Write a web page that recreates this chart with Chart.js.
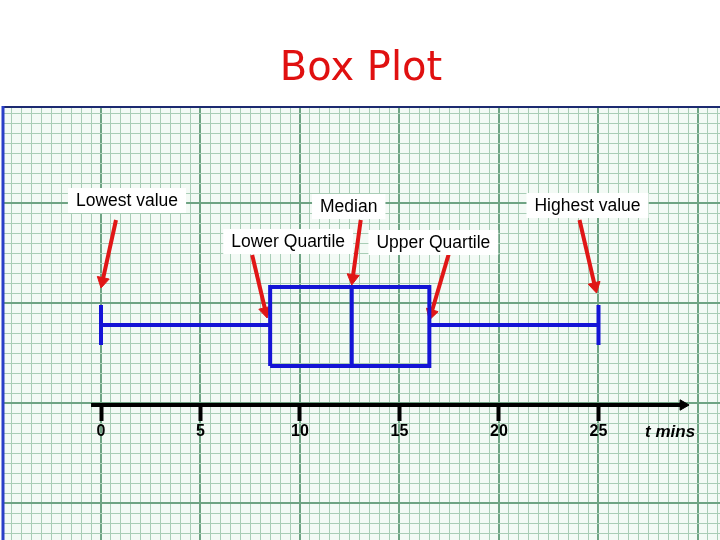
<!DOCTYPE html>
<html>
<head>
<meta charset="utf-8">
<script src="https://cdn.jsdelivr.net/npm/chart.js@4.4.0/dist/chart.umd.min.js"></script>
<style>
  html, body { margin: 0; padding: 0; background: #fff; }
  #caixa { width: 720px; height: 540px; }
</style>
</head>
<body>
<div id="caixa"><canvas id="myChart"></canvas></div>
<script>
// dados do box plot (minutos)
const titulo = 'Box Plot';
const categorias = ['Lowest value', 'Lower Quartile', 'Median', 'Upper Quartile', 'Highest value'];
const valores = [0, 8.5, 12.6, 16.5, 25];
const marcasEixo = [0, 5, 10, 15, 20, 25];
const rotuloEixo = 't mins';

// layout (unidades do gráfico: x em minutos, y em quadradinhos do papel)
const escalaX = { min: -4.975, max: 31.106 };
const escalaY = { min: -3.7, max: 39.7 };
const pxX = 19.9, pxY = 10;
const yEixo = 9.8;
const yBigode = 17.8;
const caixaBase = 13.7, caixaTopo = 21.6;
const hasteBase = 15.8, hasteTopo = 19.8;

const azul = '#1414d6';
const vermelho = '#e01616';

const minimo = valores[0], q1 = valores[1], mediana = valores[2], q3 = valores[3], maximo = valores[4];

// onde cada seta encosta no desenho
const pontas = [
    { x: minimo, y: hasteTopo + 1.7 },
    { x: q1 - 0.15, y: yBigode + 0.7 },
    { x: mediana, y: caixaTopo + 0.2 },
    { x: q3, y: yBigode + 0.5 },
    { x: maximo - 0.1, y: hasteTopo + 1.2 }
];
// deslocamento da cauda em pixels e do rótulo em relação à cauda
const caudasPx = [[15, -68], [-15, -63], [9, -65], [20, -68], [-17, -73]];
const rotulosPx = [[11, -20], [36, -14], [-12, -14], [-16, -10], [8, -15]];

function linha(pontos, cor, largura) {
    return {
        data: pontos,
        showLine: true,
        borderColor: cor,
        borderWidth: largura,
        pointRadius: 0,
        fill: false,
        tension: 0
    };
}

let datasets = [];

// box plot
datasets.push(linha([{ x: minimo, y: yBigode }, { x: q1, y: yBigode }], azul, 4));
datasets.push(linha([{ x: q3, y: yBigode }, { x: maximo, y: yBigode }], azul, 4));
datasets.push(linha([{ x: minimo, y: hasteBase }, { x: minimo, y: hasteTopo }], azul, 4));
datasets.push(linha([{ x: maximo, y: hasteBase }, { x: maximo, y: hasteTopo }], azul, 4));
datasets.push(linha([
    { x: q1, y: caixaBase }, { x: q1, y: caixaTopo }, { x: q3, y: caixaTopo },
    { x: q3, y: caixaBase }, { x: q1, y: caixaBase }
], azul, 4));
datasets.push(linha([{ x: mediana, y: caixaBase }, { x: mediana, y: caixaTopo }], azul, 4));

// eixo com seta
const fimEixo = 29.25;
datasets.push(linha([{ x: -0.5, y: yEixo }, { x: fimEixo, y: yEixo }], '#000', 4));
datasets.push({
    data: [{ x: fimEixo, y: yEixo }],
    pointStyle: 'triangle',
    pointRadius: 6,
    pointRotation: 90,
    backgroundColor: '#000',
    borderColor: '#000',
    borderWidth: 1
});

// setas vermelhas
let caudas = [];
for (let i = 0; i < pontas.length; i++) {
    const ponta = pontas[i];
    const dx = caudasPx[i][0], dy = caudasPx[i][1];
    const cauda = { x: ponta.x + dx / pxX, y: ponta.y - dy / pxY };
    caudas.push(cauda);
    const tam = Math.hypot(dx, dy);
    const ux = -dx / tam, uy = -dy / tam;
    const r = 7;
    const centro = { x: ponta.x - ux * r / pxX, y: ponta.y + uy * r / pxY };
    const rot = Math.atan2(ux, -uy) * 180 / Math.PI;
    datasets.push(linha([cauda, centro], vermelho, 4));
    datasets.push({
        data: [centro],
        pointStyle: 'triangle',
        pointRadius: r,
        pointRotation: rot,
        backgroundColor: vermelho,
        borderColor: vermelho,
        borderWidth: 1
    });
}

function passos(min, max, passo) {
    let lista = [];
    for (let i = Math.ceil(min / passo); i * passo <= max; i++) {
        lista.push({ value: i * passo });
    }
    return lista;
}

function ehMaior(v) {
    return Math.abs(v / 5 - Math.round(v / 5)) < 1e-6;
}

// papel quadriculado, rótulos e legenda do eixo
const papel = {
    id: 'papel',
    beforeDraw(chart) {
        const a = chart.chartArea;
        const ctx = chart.ctx;
        ctx.save();
        ctx.fillStyle = '#f3faf5';
        ctx.fillRect(a.left, a.top, a.right - a.left, a.bottom - a.top);
        ctx.restore();
    },
    beforeDatasetsDraw(chart) {
        const a = chart.chartArea;
        const ctx = chart.ctx;
        ctx.save();
        ctx.strokeStyle = '#1c2a70';
        ctx.lineWidth = 2;
        ctx.beginPath();
        ctx.moveTo(a.left, a.top + 1);
        ctx.lineTo(a.right, a.top + 1);
        ctx.stroke();
        ctx.strokeStyle = '#2a3fc8';
        ctx.lineWidth = 3;
        ctx.beginPath();
        ctx.moveTo(a.left + 1, a.top);
        ctx.lineTo(a.left + 1, a.bottom);
        ctx.stroke();
        ctx.restore();
    },
    afterDatasetsDraw(chart) {
        const ctx = chart.ctx;
        const sx = chart.scales.x, sy = chart.scales.y;
        ctx.save();
        ctx.font = '17.5px "Liberation Sans", Arial, sans-serif';
        ctx.textAlign = 'center';
        ctx.textBaseline = 'middle';
        for (let i = 0; i < categorias.length; i++) {
            const cx = sx.getPixelForValue(caudas[i].x) + rotulosPx[i][0];
            const cy = sy.getPixelForValue(caudas[i].y) + rotulosPx[i][1];
            const w = ctx.measureText(categorias[i]).width + 16;
            ctx.fillStyle = '#fff';
            ctx.fillRect(cx - w / 2, cy - 12, w, 25);
            ctx.fillStyle = '#000';
            ctx.fillText(categorias[i], cx, cy + 1);
        }
        ctx.font = 'italic bold 17px "Liberation Sans", Arial, sans-serif';
        ctx.fillText(rotuloEixo, sx.getPixelForValue(28.6), sy.getPixelForValue(yEixo) + 27);
        ctx.restore();
    }
};

const config = {
    type: 'scatter',
    data: { datasets: datasets },
    options: {
        responsive: true,
        maintainAspectRatio: false,
        animation: false,
        events: [],
        layout: { autoPadding: false, padding: { left: 2, right: 0, top: 0, bottom: 0 } },
        plugins: {
            legend: { display: false },
            tooltip: { enabled: false },
            title: {
                display: true,
                text: titulo,
                color: '#e01010',
                font: { family: '"DejaVu Sans", sans-serif', size: 40, weight: 'normal', lineHeight: 1.2 },
                padding: { top: 46, bottom: 12 }
            }
        },
        scales: {
            x: {
                type: 'linear',
                position: 'bottom',
                min: escalaX.min,
                max: escalaX.max,
                afterBuildTicks: (s) => { s.ticks = passos(escalaX.min, escalaX.max, 0.5); },
                ticks: { display: false, autoSkip: false },
                border: { display: false },
                grid: {
                    drawTicks: false,
                    color: (c) => ehMaior(c.tick.value) ? '#6ea383' : '#a9cdb6',
                    lineWidth: (c) => ehMaior(c.tick.value) ? 2 : 1
                }
            },
            y: {
                type: 'linear',
                position: 'left',
                min: escalaY.min,
                max: escalaY.max,
                afterBuildTicks: (s) => { s.ticks = passos(escalaY.min, escalaY.max, 1); },
                ticks: { display: false, autoSkip: false },
                border: { display: false },
                grid: {
                    drawTicks: false,
                    color: (c) => ehMaior(c.tick.value / 2) ? '#6ea383' : '#a9cdb6',
                    lineWidth: (c) => ehMaior(c.tick.value / 2) ? 2 : 1
                }
            },
            eixo: {
                type: 'linear',
                axis: 'x',
                position: { y: yEixo },
                min: escalaX.min,
                max: escalaX.max,
                afterBuildTicks: (s) => { s.ticks = marcasEixo.map(v => ({ value: v })); },
                ticks: {
                    autoSkip: false,
                    maxRotation: 0,
                    color: '#000',
                    padding: 1,
                    font: { family: '"Liberation Sans", Arial, sans-serif', size: 16, weight: 'bold' }
                },
                border: { display: false },
                grid: {
                    drawOnChartArea: false,
                    tickLength: 16,
                    tickWidth: 4,
                    tickColor: '#000'
                }
            }
        }
    },
    plugins: [papel]
};

let myChart = new Chart(document.getElementById('myChart'), config);
</script>
</body>
</html>
